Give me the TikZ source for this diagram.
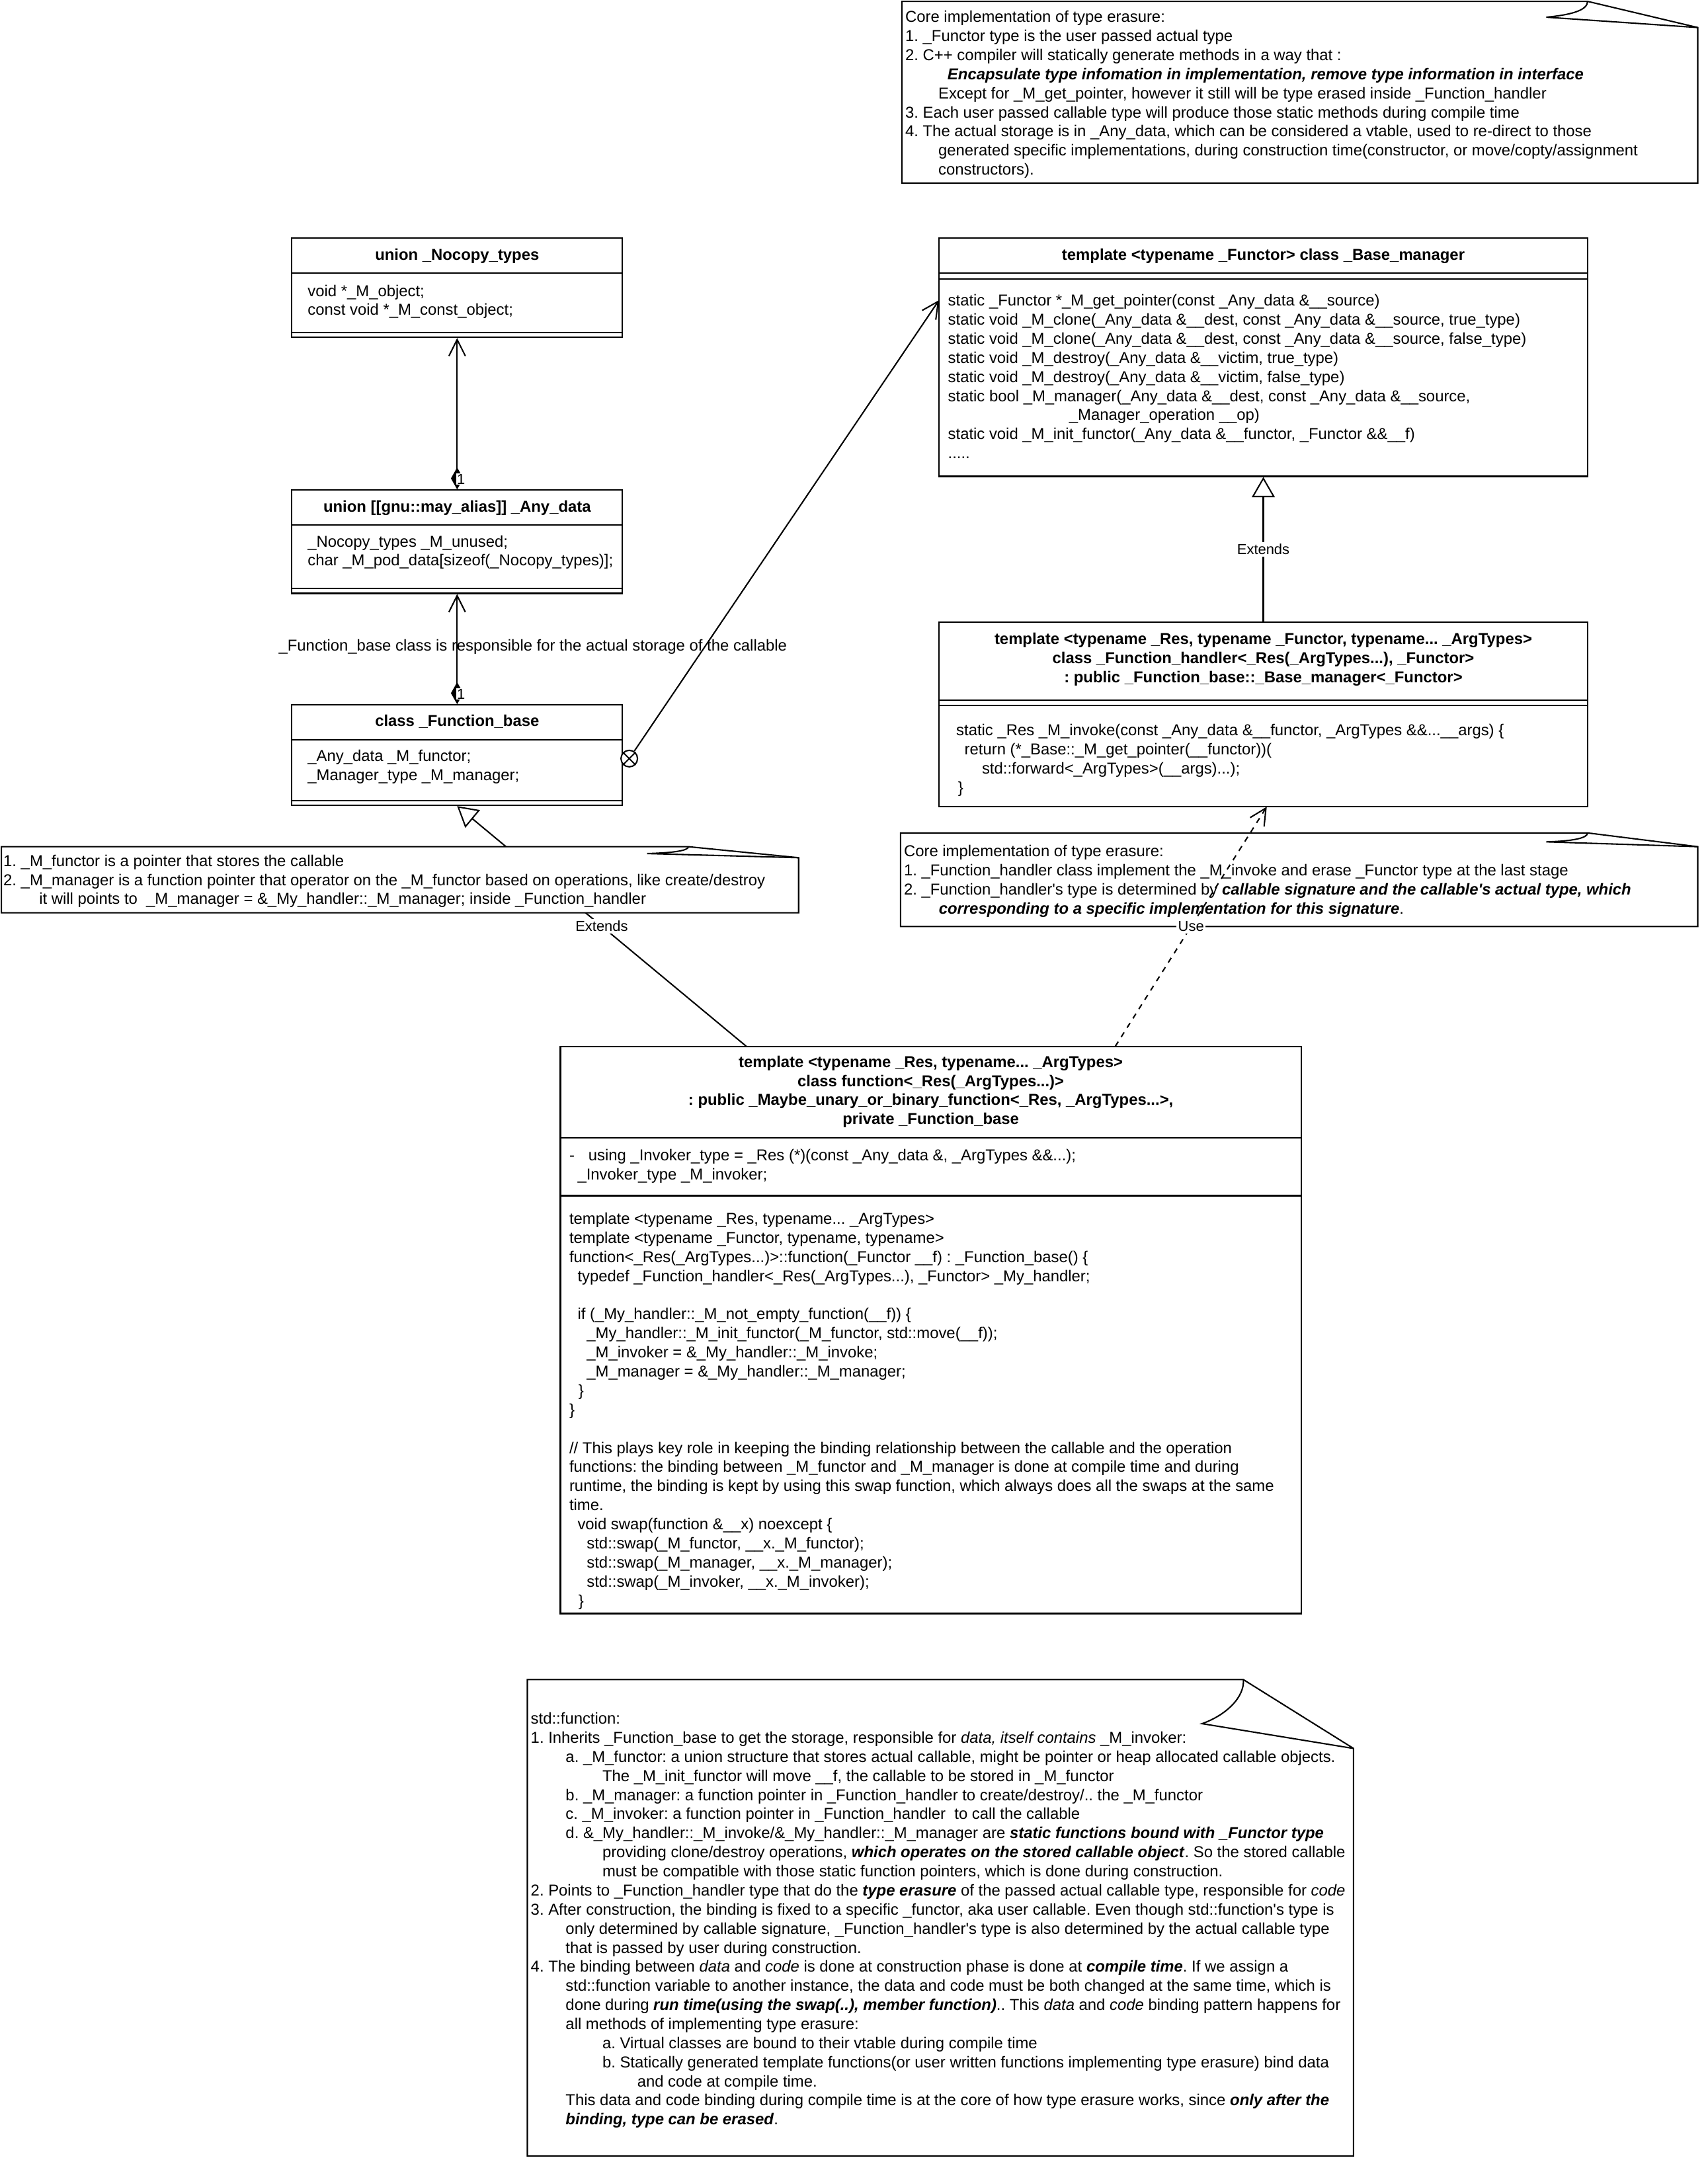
\documentclass[tikz,border=0pt]{standalone}
\usepackage{fontspec}
\setmainfont{Liberation Sans}
\usetikzlibrary{arrows.meta}

\newcommand{\umlfont}{\fontsize{8.6}{10.4}\selectfont}
\newcommand{\umllbl}{\fontsize{7.9}{9.5}\selectfont}
\frenchspacing

\tikzset{
	classbox/.style={draw, fill=white, inner sep=0pt},
	classhead/.style={font=\umlfont\bfseries, align=center, inner sep=0pt},
	classbody/.style={font=\umlfont, align=left, anchor=north west, inner sep=0pt},
	edgelbl/.style={font=\umllbl, fill=white, inner sep=1pt},
	notebox/.style={draw, fill=white},
	assoc/.style={{Diamond[length=12pt,width=6.75pt]}-{Straight Barb[length=9pt,width=9pt]}},
	extends/.style={-{Triangle[open,length=11pt,width=12.5pt]}},
	uses/.style={dash pattern=on 3pt off 3pt, -{Straight Barb[length=9pt,width=9pt]}},
	bindto/.style={-{Straight Barb[length=9pt,width=9pt]}}
}

\begin{document}
\begin{tikzpicture}[x=0.75pt,y=0.75pt,yscale=-1,xscale=1,line width=0.75pt]

		\path[fill=white] (0,0) rectangle (1240,1567.5);
		\useasboundingbox (0,0) rectangle (1240,1567.5);

		%Shape: Note [top]
		\draw[notebox] (655,1) -- (1153,1) -- (1233,20) -- (1233,133) -- (655,133) -- cycle;
		\draw (1153,1) .. controls (1153,8) and (1139,11) .. (1123,12.5) -- (1233,20);
		% Text Node
		\node[classbody] (coretop) at (657,6) {\strut Core implementation of type erasure:\\
			1. \_Functor type is the user passed actual type\\
			2. C++ compiler will statically generate methods in a way that :\\
			\hspace*{23pt}\textbf{\textit{Encapsulate type infomation in implementation, remove type information in interface}}\\
			\hspace*{18pt}Except for \_M\_get\_pointer, however it still will be type erased inside \_Function\_handler\\
			3. Each user passed callable type will produce those static methods during compile time\\
			4. The actual storage is in \_Any\_data, which can be considered a vtable, used to re-direct to those\\
			\hspace*{18pt}generated specific implementations, during construction time(constructor, or move/copty/assignment\\
			\hspace*{18pt}constructors).};

		%Shape: Class [union _Nocopy_types]
		\node[classbox, minimum width=180pt, minimum height=54pt] (nocopy) at (332,209) {};
		\draw (nocopy.north west) ++(0,26) -- ++(240,0);
		\draw (nocopy.south west) ++(0,-4) -- ++(240,0);
		% Text Node
		\node[classhead] (nocopyhead) at (332,186) {union \_Nocopy\_types};
		% Text Node
		\node[classbody] (nocopyattr) at (223,205) {\strut void *\_M\_object;\\ const void *\_M\_const\_object;};

		%Shape: Class [union _Any_data]
		\node[classbox, minimum width=180pt, minimum height=56.25pt] (anydata) at (332,393.5) {};
		\draw (anydata.north west) ++(0,26) -- ++(240,0);
		\draw (anydata.south west) ++(0,-4) -- ++(240,0);
		% Text Node
		\node[classhead] (anydatahead) at (332,369) {union [[gnu::may\_alias]] \_Any\_data};
		% Text Node
		\node[classbody] (anydataattr) at (223,387) {\strut \_Nocopy\_types \_M\_unused;\\ char \_M\_pod\_data[sizeof(\_Nocopy\_types)];};

		%Shape: Class [class _Function_base]
		\node[classbox, minimum width=180pt, minimum height=54.75pt] (fbase) at (332,548.5) {};
		\draw (fbase.north west) ++(0,26) -- ++(240,0);
		\draw (fbase.south west) ++(0,-4) -- ++(240,0);
		% Text Node
		\node[classhead] (fbasehead) at (332,524) {class \_Function\_base};
		% Text Node
		\node[classbody] (fbaseattr) at (223,543) {\strut \_Any\_data \_M\_functor;\\ \_Manager\_type \_M\_manager;};

		%Shape: Class [_Base_manager]
		\node[classbox, minimum width=353.25pt, minimum height=129.75pt] (basemgr) at (917.5,259.5) {};
		\draw (basemgr.north west) ++(0,26) -- ++(471,0);
		\draw (basemgr.north west) ++(0,30) -- ++(471,0);
		% Text Node
		\node[classhead] (basemgrhead) at (917.5,186) {template <typename \_Functor> class \_Base\_manager};
		% Text Node
		\node[classbody] (basemgrops) at (688,212) {\strut static \_Functor *\_M\_get\_pointer(const \_Any\_data \&\_\_source)\\
			static void \_M\_clone(\_Any\_data \&\_\_dest, const \_Any\_data \&\_\_source, true\_type)\\
			static void \_M\_clone(\_Any\_data \&\_\_dest, const \_Any\_data \&\_\_source, false\_type)\\
			static void \_M\_destroy(\_Any\_data \&\_\_victim, true\_type)\\
			static void \_M\_destroy(\_Any\_data \&\_\_victim, false\_type)\\
			static bool \_M\_manager(\_Any\_data \&\_\_dest, const \_Any\_data \&\_\_source,\\
			\hspace*{66pt}\_Manager\_operation \_\_op)\\
			static void \_M\_init\_functor(\_Any\_data \&\_\_functor, \_Functor \&\&\_\_f)\\
			.....};

		%Shape: Class [_Function_handler]
		\node[classbox, minimum width=353.25pt, minimum height=100.5pt] (handler) at (917.5,519) {};
		\draw (handler.north west) ++(0,57) -- ++(471,0);
		\draw (handler.north west) ++(0,61) -- ++(471,0);
		% Text Node
		\node[classhead] (handlerhead) at (917.5,479) {template <typename \_Res, typename \_Functor, typename... \_ArgTypes>\\
			class \_Function\_handler<\_Res(\_ArgTypes...), \_Functor>\\
			: public \_Function\_base::\_Base\_manager<\_Functor>};
		% Text Node
		\node[classbody] (handlerops) at (694,524) {\strut static \_Res \_M\_invoke(const \_Any\_data \&\_\_functor, \_ArgTypes \&\&...\_\_args) \{\\
			\hspace*{4.5pt}return (*\_Base::\_M\_get\_pointer(\_\_functor))(\\
			\hspace*{14pt}std::forward<\_ArgTypes>(\_\_args)...);\\
			\hspace*{1pt}\}};

		%Shape: Class [function]
		\node[classbox, minimum width=403.5pt, minimum height=309pt] (func) at (676,966) {};
		\draw (func.north west) ++(0,67) -- ++(538,0);
		\draw (func.north west) ++(0,109) -- ++(538,0);
		% Text Node
		\node[classhead] (funchead) at (676,793) {template <typename \_Res, typename... \_ArgTypes>\\
			class function<\_Res(\_ArgTypes...)>\\
			: public \_Maybe\_unary\_or\_binary\_function<\_Res, \_ArgTypes...>,\\
			private \_Function\_base};
		% Text Node
		\node[classbody] (funcattr) at (413,833) {\strut -\hspace*{7.5pt}using \_Invoker\_type = \_Res (*)(const \_Any\_data \&, \_ArgTypes \&\&...);\\
			\hspace*{4.5pt}\_Invoker\_type \_M\_invoker;};
		% Text Node
		\node[classbody] (funcops) at (413,879) {\strut template <typename \_Res, typename... \_ArgTypes>\\
			template <typename \_Functor, typename, typename>\\
			function<\_Res(\_ArgTypes...)>::function(\_Functor \_\_f) : \_Function\_base() \{\\
			\hspace*{4.5pt}typedef \_Function\_handler<\_Res(\_ArgTypes...), \_Functor> \_My\_handler;\\
			\mbox{}\\
			\hspace*{4.5pt}if (\_My\_handler::\_M\_not\_empty\_function(\_\_f)) \{\\
			\hspace*{9.5pt}\_My\_handler::\_M\_init\_functor(\_M\_functor, std::move(\_\_f));\\
			\hspace*{9.5pt}\_M\_invoker = \&\_My\_handler::\_M\_invoke;\\
			\hspace*{9.5pt}\_M\_manager = \&\_My\_handler::\_M\_manager;\\
			\hspace*{5pt}\}\\
			\}\\
			\mbox{}\\
			// This plays key role in keeping the binding relationship between the callable and the operation\\
			functions: the binding between \_M\_functor and \_M\_manager is done at compile time and during\\
			runtime, the binding is kept by using this swap function, which always does all the swaps at the same\\
			time.\\
			\hspace*{4.5pt}void swap(function \&\_\_x) noexcept \{\\
			\hspace*{9.5pt}std::swap(\_M\_functor, \_\_x.\_M\_functor);\\
			\hspace*{9.5pt}std::swap(\_M\_manager, \_\_x.\_M\_manager);\\
			\hspace*{9.5pt}std::swap(\_M\_invoker, \_\_x.\_M\_invoker);\\
			\hspace*{5pt}\}};

		%Straight Lines
		\draw[assoc] (anydata.north) -- (nocopy.south);
		\node[edgelbl, anchor=west, inner sep=0.3pt] (mult1) at (331,348) {1};
		%Straight Lines
		\draw[assoc] (fbase.north) -- (anydata.south);
		\node[edgelbl, anchor=west, inner sep=0.3pt] (mult2) at (331,504) {1};
		% Text Node
		\node[font=\umlfont, inner sep=0pt] (storage) at (387,470) {\_Function\_base class is responsible for the actual storage of the callable};

		%Shape: Circle [cross]
		\node[draw, circle, fill=white, minimum size=9pt, inner sep=0pt] (xcirc) at (457,551) {};
		\draw (xcirc.north west) -- (xcirc.south east) (xcirc.north east) -- (xcirc.south west);
		\coordinate (getptr) at (682,218);
		%Straight Lines
		\draw[bindto] (xcirc) -- (getptr);

		%Straight Lines
		\draw[extends] (handler.north) -- node[edgelbl] (ext1) {Extends} (basemgr.south);
		\coordinate (funcext) at (542,760);
		%Straight Lines
		\draw[extends] (funcext) -- node[edgelbl] (ext2) {Extends} (fbase.south);

		%Shape: Note [_Function_base]
		\draw[notebox] (1,615) -- (500,615) -- (580,623) -- (580,663) -- (1,663) -- cycle;
		\draw (500,615) .. controls (500,618) and (488,619.5) .. (470,620) -- (580,623);
		% Text Node
		\node[classbody] (fbasenote) at (2,619) {\strut 1. \_M\_functor is a pointer that stores the callable\\
			2. \_M\_manager is a function pointer that operator on the \_M\_functor based on operations, like create/destroy\\
			\hspace*{19.5pt}it will points to\ \ \_M\_manager = \&\_My\_handler::\_M\_manager; inside \_Function\_handler};

		%Shape: Note [_Function_handler]
		\draw[notebox] (654,605) -- (1153,605) -- (1233,615) -- (1233,673) -- (654,673) -- cycle;
		\draw (1153,605) .. controls (1153,609) and (1141,611) .. (1123,611.5) -- (1233,615);
		% Text Node
		\node[classbody] (handlernote) at (656,612) {\strut Core implementation of type erasure:\\
			1. \_Function\_handler class implement the \_M\_invoke and erase \_Functor type at the last stage\\
			2. \_Function\_handler\textquotesingle s type is determined by \textbf{\textit{callable signature and the callable\textquotesingle s actual type, which}}\\
			\hspace*{19pt}\textbf{\textit{corresponding to a specific implementation for this signature}}.};

		\coordinate (funcuse) at (810,760);
		\coordinate (handleruse) at (920,586);
		%Straight Lines
		\draw[uses] (funcuse) -- node[edgelbl] (use) {Use} (handleruse);

		%Shape: Note [std::function]
		\draw[notebox] (383,1220) -- (903,1220) -- (983,1270) -- (983,1566) -- (383,1566) -- cycle;
		\draw (903,1220) .. controls (904,1233) and (890,1246) .. (873,1252) -- (983,1270);
		% Text Node
		\node[classbody] (funcnote) at (385,1242) {\strut std::function:\\
			1. Inherits \_Function\_base to get the storage, responsible for \textit{data, itself contains} \_M\_invoker:\\
			\hspace*{19pt}a. \_M\_functor: a union structure that stores actual callable, might be pointer or heap allocated callable objects.\\
			\hspace*{39pt}The \_M\_init\_functor will move \_\_f, the callable to be stored in \_M\_functor\\
			\hspace*{19pt}b. \_M\_manager: a function pointer in \_Function\_handler to create/destroy/.. the \_M\_functor\\
			\hspace*{19pt}c. \_M\_invoker: a function pointer in \_Function\_handler\ \ to call the callable\\
			\hspace*{19pt}d. \&\_My\_handler::\_M\_invoke/\&\_My\_handler::\_M\_manager are \textbf{\textit{static functions bound with \_Functor type}}\\
			\hspace*{39pt}providing clone/destroy operations, \textbf{\textit{which operates on the stored callable object}}. So the stored callable\\
			\hspace*{39pt}must be compatible with those static function pointers, which is done during construction.\\
			2. Points to \_Function\_handler type that do the \textbf{\textit{type erasure}} of the passed actual callable type, responsible for \textit{code}\\
			3. After construction, the binding is fixed to a specific \_functor, aka user callable. Even though std::function\textquotesingle s type is\\
			\hspace*{19pt}only determined by callable signature, \_Function\_handler\textquotesingle s type is also determined by the actual callable type\\
			\hspace*{19pt}that is passed by user during construction.\\
			4. The binding between \textit{data} and \textit{code} is done at construction phase is done at \textbf{\textit{compile time}}. If we assign a\\
			\hspace*{19pt}std::function variable to another instance, the data and code must be both changed at the same time, which is\\
			\hspace*{19pt}done during \textbf{\textit{run time(using the swap(..), member function)}}.. This \textit{data} and \textit{code} binding pattern happens for\\
			\hspace*{19pt}all methods of implementing type erasure:\\
			\hspace*{39pt}a. Virtual classes are bound to their vtable during compile time\\
			\hspace*{39pt}b. Statically generated template functions(or user written functions implementing type erasure) bind data\\
			\hspace*{58pt}and code at compile time.\\
			\hspace*{19pt}This data and code binding during compile time is at the core of how type erasure works, since \textbf{\textit{only after the}}\\
			\hspace*{19pt}\textbf{\textit{binding, type can be erased}}.};

\end{tikzpicture}
\end{document}
